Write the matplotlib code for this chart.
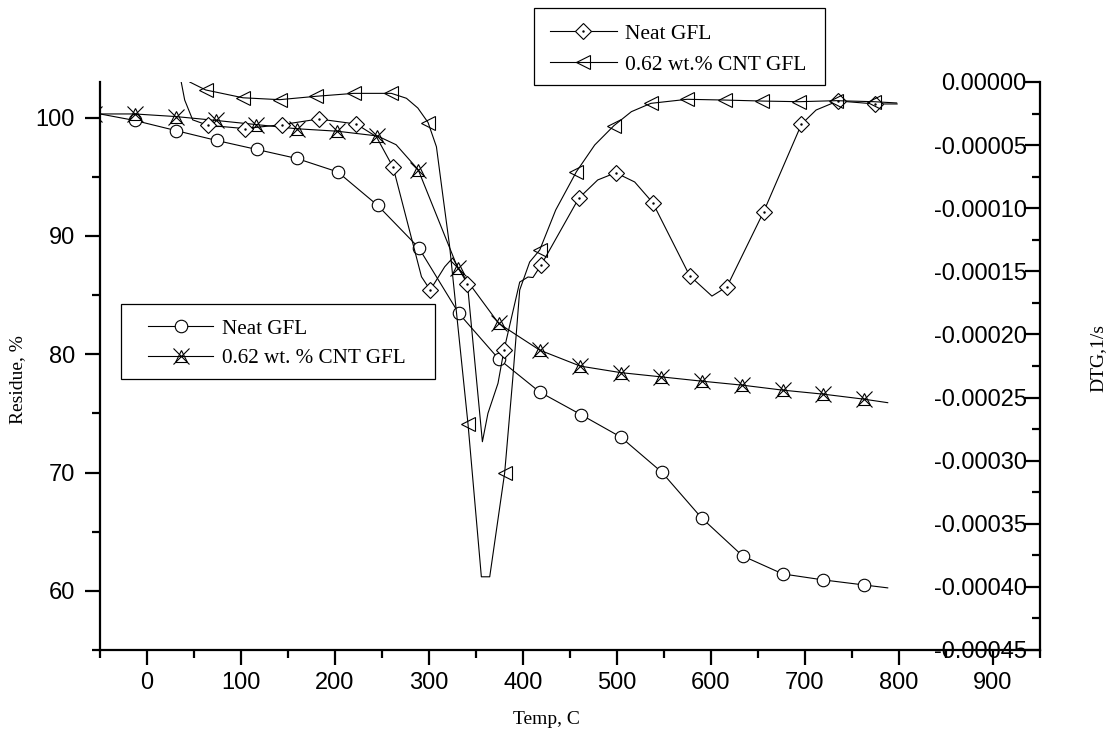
import matplotlib.pyplot as plt
from matplotlib.ticker import MultipleLocator, FixedLocator, FuncFormatter
from matplotlib.patches import Rectangle
from matplotlib.lines import Line2D

plt.rcParams['font.family'] = ['Liberation Sans', 'DejaVu Sans']

# ---------------- data ----------------
# TGA residue (left axis), neat resin
tga_neat_temp = [-50, -13, 30.5, 74, 116.7, 159.3, 202.9, 245.4, 289, 331.6, 374.1,
                 417.8, 461.4, 503.9, 547.5, 590, 633.7, 676.3, 718.8, 762.4, 788]
tga_neat_res = [100.3, 99.75, 98.9, 98.06, 97.3, 96.54, 95.4, 92.57, 89.0, 83.46, 79.6,
                76.8, 74.9, 73.0, 70.04, 66.16, 62.95, 61.43, 60.93, 60.5, 60.25]
tga_neat_marks = list(range(1, 20))

# TGA residue (left axis), 0.62 wt.% CNT
tga_cnt_temp = [-56, -13, 30.5, 73.6, 116.4, 159.3, 202.6, 245.1, 265, 288.5, 330.5,
                374.1, 417.8, 461, 504, 547.2, 590.1, 633.4, 676.3, 719.5, 762.4, 788]
tga_cnt_res = [100.3, 100.3, 100.08, 99.75, 99.4, 99.05, 98.84, 98.44, 97.7, 95.59, 87.3,
               82.6, 80.34, 78.99, 78.44, 78.08, 77.72, 77.38, 76.96, 76.62, 76.2, 75.9]
tga_cnt_marks = [0, 1, 2, 3, 4, 5, 6, 7, 9, 10, 11, 12, 13, 14, 15, 16, 17, 18, 19, 20]

# DTG (right axis), neat resin
dtg_neat_temp = [33, 36.4, 40.1, 48.6, 64.9, 103.9, 143.5, 182.7, 222.6, 244, 261.9, 292,
                 301.3, 316.7, 325.2, 340.9, 356.8, 362.7, 373.4, 379.8, 396.5, 405.3,
                 410.6, 419.6, 459.3, 479.5, 498.6, 518.8, 538, 577.3, 601, 617, 656,
                 696.2, 711.8, 735, 774.8, 798]
dtg_neat_val = [1.5e-5, 0.0, -1.43e-5, -3.0e-5, -3.43e-5, -3.69e-5, -3.38e-5, -2.93e-5,
                -3.33e-5, -4.33e-5, -6.77e-5, -1.543e-4, -1.648e-4, -1.464e-4, -1.394e-4,
                -1.600e-4, -2.85e-4, -2.625e-4, -2.387e-4, -2.123e-4, -1.585e-4, -1.545e-4,
                -1.549e-4, -1.446e-4, -9.21e-5, -7.76e-5, -7.19e-5, -7.92e-5, -9.56e-5,
                -1.535e-4, -1.696e-4, -1.622e-4, -1.028e-4, -3.35e-5, -2.22e-5, -1.5e-5,
                -1.74e-5, -1.74e-5]
dtg_neat_marks = [4, 5, 6, 7, 8, 10, 12, 15, 19, 23, 24, 26, 28, 29, 31, 32, 33, 35, 36]

# DTG (right axis), 0.62 wt.% CNT
dtg_cnt_temp = [38, 45.4, 62.4, 102.1, 141.2, 180.2, 220.1, 260, 276, 288.1, 299, 307.9,
                314.9, 322, 341.5, 355.7, 364.6, 380.5, 389, 396.5, 407.1, 417.8, 434.8,
                456.8, 476.3, 496.7, 515.3, 536.1, 574.7, 614.6, 654.7, 693.6, 733.4,
                773.1, 797.5]
dtg_cnt_val = [9.5e-6, 0.0, -6.3e-6, -1.25e-5, -1.4e-5, -1.13e-5, -9.0e-6, -9.0e-6,
               -1.29e-5, -2.06e-5, -3.21e-5, -5.13e-5, -9.09e-5, -1.305e-4, -2.71e-4,
               -3.92e-4, -3.92e-4, -3.096e-4, -2.36e-4, -1.648e-4, -1.426e-4, -1.331e-4,
               -1.014e-4, -7.11e-5, -4.99e-5, -3.46e-5, -2.35e-5, -1.69e-5, -1.37e-5,
               -1.43e-5, -1.51e-5, -1.56e-5, -1.48e-5, -1.56e-5, -1.66e-5]
dtg_cnt_marks = [2, 3, 4, 5, 6, 7, 10, 14, 17, 21, 23, 25, 27, 28, 29, 30, 31, 32, 33]

labels_tga = ['Neat GFL', '0.62 wt. % CNT GFL']
labels_dtg = ['Neat GFL', '0.62 wt.% CNT GFL']

x_ticks = list(range(0, 901, 100))
y_left_ticks = list(range(60, 101, 10))
y_right_ticks = [-0.00045, -0.00040, -0.00035, -0.00030, -0.00025,
                 -0.00020, -0.00015, -0.00010, -0.00005, 0.0]

# ---------------- figure ----------------
W, H = 1115, 737
fig = plt.figure(figsize=(W / 100, H / 100), dpi=100)
ax1 = fig.add_axes([100 / W, 87 / H, 940 / W, 568 / H])
ax2 = ax1.twinx()

lw = 0.8
serif = ['Liberation Serif', 'DejaVu Serif']

# TGA curves
ax1.plot(tga_neat_temp, tga_neat_res, color='black', lw=lw, marker='o', ms=9,
         mfc='white', mec='black', mew=0.8, markevery=tga_neat_marks)
ax1.plot(tga_cnt_temp, tga_cnt_res, color='black', lw=lw, marker='^', ms=9,
         mfc='none', mec='black', mew=0.8, markevery=tga_cnt_marks)
ax1.plot(tga_cnt_temp, tga_cnt_res, ls='none', marker='x', ms=11,
         mec='black', mew=0.8, markevery=tga_cnt_marks)

# DTG curves
ax2.plot(dtg_neat_temp, dtg_neat_val, color='black', lw=lw, marker='D', ms=8,
         mfc='white', mec='black', mew=0.8, markevery=dtg_neat_marks)
ax2.plot(dtg_neat_temp, dtg_neat_val, ls='none', marker='.', ms=1.5,
         color='black', markevery=dtg_neat_marks)
ax2.plot(dtg_cnt_temp, dtg_cnt_val, color='black', lw=lw, marker='<', ms=10,
         mfc='none', mec='black', mew=0.8, markevery=dtg_cnt_marks)

# axes ranges
ax1.set_xlim(-50, 950)
ax1.set_ylim(55, 103)
ax2.set_ylim(-0.00045, 0.0)

# spines
for s in ['top', 'right']:
    ax1.spines[s].set_visible(False)
for s in ['top', 'left', 'bottom']:
    ax2.spines[s].set_visible(False)
ax1.spines['left'].set_linewidth(1.6)
ax1.spines['bottom'].set_linewidth(1.6)
ax2.spines['right'].set_linewidth(1.6)

# ticks
ax1.set_xticks(x_ticks)
ax1.xaxis.set_minor_locator(MultipleLocator(50))
ax1.set_yticks(y_left_ticks)
ax1.yaxis.set_minor_locator(MultipleLocator(5))
ax1.tick_params(axis='both', which='major', direction='out', length=11, width=1.6,
                labelsize=17)
ax1.tick_params(axis='both', which='minor', direction='out', length=6, width=1.6)
ax1.tick_params(axis='y', which='major', pad=7)
ax1.tick_params(axis='x', which='major', pad=5)

ax2.set_yticks(y_right_ticks)
ax2.yaxis.set_minor_locator(FixedLocator([v + 0.000025 for v in y_right_ticks[:-1]]))
ax2.yaxis.set_major_formatter(FuncFormatter(
    lambda v, p: '0.00000' if abs(v) < 1e-9 else f'{v:.5f}'))
ax2.tick_params(axis='y', which='major', direction='in', length=11, width=1.6,
                labelsize=17, pad=-9.5)
ax2.tick_params(axis='y', which='minor', direction='in', length=6, width=1.6)
for t in ax2.yaxis.get_major_ticks():
    t.label2.set_horizontalalignment('right')

# axis titles
ax1.set_xlabel('Temp, C', fontfamily=serif, fontsize=14, va='center')
ax1.xaxis.set_label_coords((546 - 100) / 940, (650 - 720) / 568)
ax1.set_ylabel('Residue, %', fontfamily=serif, fontsize=14, va='center')
ax1.yaxis.set_label_coords((18 - 100) / 940, (650 - 380) / 568)
ax2.set_ylabel('DTG,1/s', fontfamily=serif, fontsize=14, va='center')
ax2.yaxis.set_label_coords((1098 - 100) / 940, (650 - 358) / 568)

# ---------------- legends ----------------
def frame(x0, y0, x1, y1):
    fig.patches.append(Rectangle((x0 / W, 1 - y1 / H), (x1 - x0) / W, (y1 - y0) / H,
                                 transform=fig.transFigure, fill=False,
                                 edgecolor='black', lw=0.9))

h_neat_tga = Line2D([], [], color='black', lw=lw, marker='o', ms=9, mfc='white',
                    mec='black', mew=0.8)
h_cnt_tga = (Line2D([], [], color='black', lw=lw, marker='^', ms=9, mfc='none',
                    mec='black', mew=0.8),
             Line2D([], [], ls='none', marker='x', ms=11, mec='black', mew=0.8))
h_neat_dtg = (Line2D([], [], color='black', lw=lw, marker='D', ms=8, mfc='white',
                     mec='black', mew=0.8),
              Line2D([], [], ls='none', marker='.', ms=1.5, color='black'))
h_cnt_dtg = Line2D([], [], color='black', lw=lw, marker='<', ms=10, mfc='none',
                   mec='black', mew=0.8)

frame(534, 8, 825, 85)
fig.legend([h_neat_dtg, h_cnt_dtg], labels_dtg, loc='center left',
           bbox_to_anchor=(550 / W, 1 - 49.2 / H), frameon=False,
           prop={'family': serif, 'size': 15.5}, borderpad=0, borderaxespad=0,
           handlelength=3.1, handletextpad=0.37, labelspacing=0.52)

frame(121, 304, 435, 379)
fig.legend([h_neat_tga, h_cnt_tga], labels_tga, loc='center left',
           bbox_to_anchor=(148 / W, 1 - 343.4 / H), frameon=False,
           prop={'family': serif, 'size': 15.2}, borderpad=0, borderaxespad=0,
           handlelength=3.1, handletextpad=0.42, labelspacing=0.45)

fig.savefig('out.png', dpi=100, facecolor='white')
